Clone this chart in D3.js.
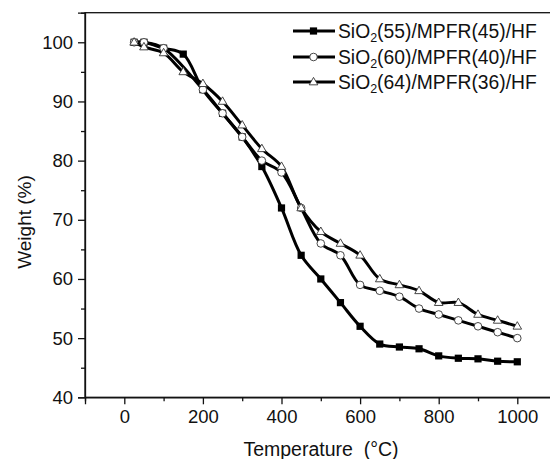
<!DOCTYPE html>
<html><head><meta charset="utf-8">
<script src="https://cdn.jsdelivr.net/npm/d3@7"></script>
<style>
html,body{margin:0;padding:0;background:#fff;}
svg text{font-family:"Liberation Sans",Arial,sans-serif;fill:#111;}
</style></head>
<body><svg id="c" width="550" height="459"></svg>
<script>
const temps55 = [25,50,100,150,200,250,300,350,400,450,500,550,600,650,700,750,800,850,900,950,1000];
const weight55 = [100,100,99,98,92,88,84,79,72,64,60,56,52,49,48.5,48.2,47,46.6,46.5,46.1,46];
const temps60 = [25,50,100,200,250,300,350,400,450,500,550,600,650,700,750,800,850,900,950,1000];
const weight60 = [100,100,99,92,88,84,80,78,72,66,64,59,58,57,55,54,53,52,51,50];
const temps64 = [25,50,100,150,200,250,300,350,400,450,500,550,600,650,700,750,800,850,900,950,1000];
const weight64 = [100,99.2,98.2,95,93,90,86,82,79,72,68,66,64,60,59,58,56,56,54,53,52];
const seriesNames = ["(55)/MPFR(45)/HF","(60)/MPFR(40)/HF","(64)/MPFR(36)/HF"];
const xTicksMajor = [0,200,400,600,800,1000];
const yTicksMajor = [40,50,60,70,80,90,100];

const svg = d3.select("#c");
const x = d3.scaleLinear().domain([-100,1100]).range([85,556.6]);
const y = d3.scaleLinear().domain([40,105]).range([397.3,12.7]);

svg.append("rect").attr("x",85).attr("y",y(105)).attr("width",x(1100)-85).attr("height",y(40)-y(105))
  .attr("fill","none").attr("stroke","#111").attr("stroke-width",1.3);

const xMinor = d3.range(-100,1101,100).filter(v=>xTicksMajor.indexOf(v)<0);
const yMinor = d3.range(45,106,10);
const gx = svg.append("g").attr("transform",`translate(0,${y(40)})`)
  .call(d3.axisBottom(x).tickValues(xTicksMajor).tickSize(7).tickPadding(6).tickFormat(d3.format("d")));
gx.select(".domain").attr("stroke-width",1.3).attr("stroke","#111");
gx.selectAll(".tick line").attr("stroke","#111").attr("stroke-width",1.3);
gx.selectAll("text").attr("font-size",18.5).attr("font-family","Liberation Sans, Arial, sans-serif").attr("fill","#111");
svg.append("g").attr("transform",`translate(0,${y(40)})`)
  .call(d3.axisBottom(x).tickValues(xMinor).tickSize(4).tickFormat(""))
  .call(g=>g.select(".domain").remove())
  .selectAll("line").attr("stroke","#111").attr("stroke-width",1.3);

const gy = svg.append("g").attr("transform","translate(85,0)")
  .call(d3.axisLeft(y).tickValues(yTicksMajor).tickSize(7).tickPadding(5).tickFormat(d3.format("d")));
gy.select(".domain").attr("stroke-width",1.3).attr("stroke","#111");
gy.selectAll(".tick line").attr("stroke","#111").attr("stroke-width",1.3);
gy.selectAll("text").attr("font-size",18.5).attr("font-family","Liberation Sans, Arial, sans-serif").attr("fill","#111");
svg.append("g").attr("transform","translate(85,0)")
  .call(d3.axisLeft(y).tickValues(yMinor).tickSize(4).tickFormat(""))
  .call(g=>g.select(".domain").remove())
  .selectAll("line").attr("stroke","#111").attr("stroke-width",1.3);

svg.append("text").attr("x",321).attr("y",456).attr("text-anchor","middle").attr("font-size",19.5)
  .style("white-space","pre").text("Temperature  (°C)");
svg.append("text").attr("transform","translate(31,222) rotate(-90)").attr("text-anchor","middle").attr("font-size",19)
  .text("Weight (%)");

const line = d3.line().x(d=>x(d[0])).y(d=>y(d[1])).curve(d3.curveCatmullRom.alpha(0.5));
const data = [
  d3.zip(temps55,weight55),
  d3.zip(temps60,weight60),
  d3.zip(temps64,weight64)
];
const plot = svg.append("g");
function marker(g,type,cx,cy){
  if(type===0){
    g.append("rect").attr("x",cx-3.6).attr("y",cy-3.6).attr("width",7.2).attr("height",7.2).attr("fill","#000");
  } else if(type===1){
    g.append("circle").attr("cx",cx).attr("cy",cy).attr("r",3.8).attr("fill","#fff").attr("stroke","#333").attr("stroke-width",0.9);
  } else {
    const s=8.6,h=s*0.866;
    g.append("path").attr("d",`M${cx},${cy-h*0.62}L${cx+s/2},${cy+h*0.38}L${cx-s/2},${cy+h*0.38}Z`)
      .attr("fill","#fff").attr("stroke","#333").attr("stroke-width",0.9);
  }
}
data.forEach((ser,i)=>{
  plot.append("path").datum(ser).attr("d",line).attr("fill","none").attr("stroke","#000").attr("stroke-width",3);
});
data.forEach((ser,i)=>{
  ser.forEach(d=>marker(plot,i,x(d[0]),y(d[1])));
});

const legY=[31,57,82];
seriesNames.forEach((n,i)=>{
  const g=svg.append("g");
  g.append("line").attr("x1",293).attr("x2",335).attr("y1",legY[i]).attr("y2",legY[i]).attr("stroke","#000").attr("stroke-width",3);
  marker(g,i,313.5,legY[i]);
  const t=g.append("text").attr("x",338).attr("y",legY[i]+7).attr("font-size",19.3);
  t.append("tspan").text("SiO");
  t.append("tspan").attr("font-size",12.5).attr("dy",4).text("2");
  t.append("tspan").attr("dy",-4).text(n);
});
</script></body></html>
